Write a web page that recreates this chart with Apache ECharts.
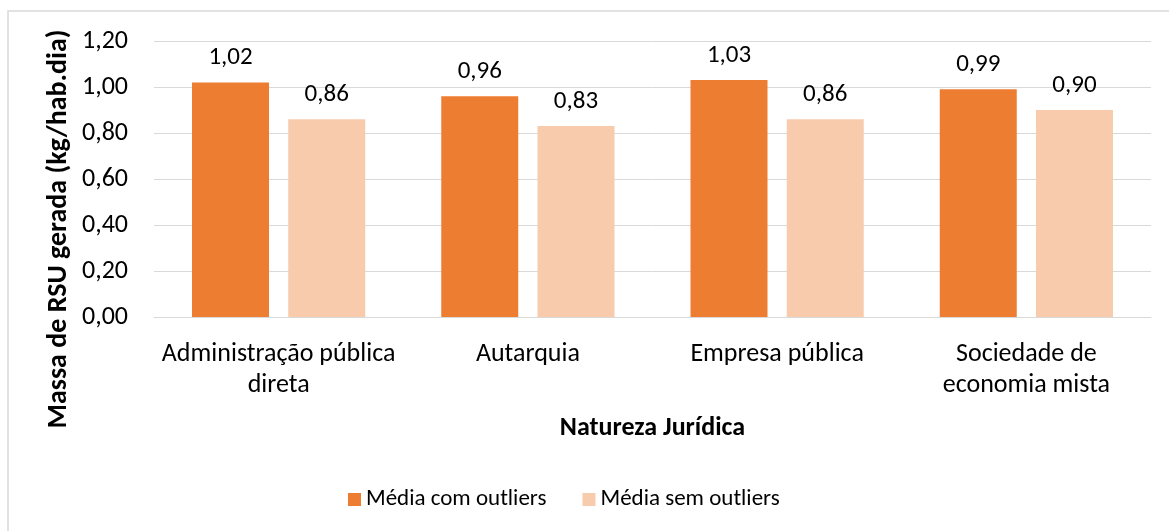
<!DOCTYPE html>
<html>
<head>
<meta charset="utf-8">
<script src="https://cdn.jsdelivr.net/npm/echarts@6/dist/echarts.min.js"></script>
<style>
  html, body { margin: 0; padding: 0; background: #fff; }
  #chart { width: 1169px; height: 531px; }
</style>
</head>
<body>
<div id="chart"></div>
<script>
// Average municipal solid waste generation by legal nature of the service provider
const categories = ['Administração pública\ndireta', 'Autarquia', 'Empresa pública', 'Sociedade de\neconomia mista'];
const comOutliers = [1.02, 0.96, 1.03, 0.99];
const semOutliers = [0.86, 0.83, 0.86, 0.90];
const seriesNames = ['Média com outliers', 'Média sem outliers'];
const yTitle = 'Massa de RSU gerada (kg/hab.dia)';
const xTitle = 'Natureza Jurídica';

const FONT = 'Carlito, Calibri, Lato, sans-serif';
const fmt = v => v.toFixed(2).replace('.', ',');

const chart = echarts.init(document.getElementById('chart'));
chart.setOption({
  animation: false,
  textStyle: { fontFamily: FONT, color: '#000' },
  graphic: [
    {
      type: 'rect',
      shape: { x: 8, y: 11, width: 1200, height: 560 },
      style: { fill: 'none', stroke: '#d9d9d9', lineWidth: 1.5 },
      silent: true
    },
    {
      // vertical value-axis title
      type: 'text',
      x: 59,
      y: 229,
      rotation: Math.PI / 2,
      style: {
        text: yTitle,
        fontFamily: FONT,
        fontSize: 28,
        fontWeight: 'bold',
        fill: '#000',
        align: 'center',
        verticalAlign: 'middle'
      },
      silent: true
    }
  ],
  grid: { left: 154, right: 18, top: 41, bottom: 214, containLabel: false, outerBoundsMode: 'none' },
  legend: {
    bottom: 15,
    left: 343,
    itemWidth: 13,
    itemHeight: 13,
    itemGap: 36,
    icon: 'rect',
    textStyle: { fontFamily: FONT, fontSize: 23, color: '#000' },
    data: seriesNames
  },
  xAxis: {
    type: 'category',
    data: categories,
    name: xTitle,
    nameLocation: 'middle',
    nameGap: 98,
    nameTextStyle: { fontFamily: FONT, fontSize: 26, fontWeight: 'bold', color: '#000' },
    axisLine: { lineStyle: { color: '#d9d9d9', width: 1 } },
    axisTick: { show: false },
    axisLabel: { fontFamily: FONT, fontSize: 26, color: '#000', margin: 22, lineHeight: 31, interval: 0 }
  },
  yAxis: {
    type: 'value',
    min: 0,
    max: 1.2,
    interval: 0.2,
    axisLine: { show: false },
    axisTick: { show: false },
    splitLine: { lineStyle: { color: '#d9d9d9', width: 1 } },
    axisLabel: { fontFamily: FONT, fontSize: 26, color: '#000', margin: 26, formatter: v => fmt(v) }
  },
  series: [
    {
      name: seriesNames[0],
      type: 'bar',
      data: comOutliers,
      itemStyle: { color: '#ED7D31' },
      barGap: '25%',
      barCategoryGap: '30.5%',
      label: { show: true, position: 'top', distance: 12, fontFamily: FONT, fontSize: 25, color: '#000', formatter: p => fmt(p.value) }
    },
    {
      name: seriesNames[1],
      type: 'bar',
      data: semOutliers,
      itemStyle: { color: '#F8CBAD' },
      barGap: '25%',
      barCategoryGap: '30.5%',
      label: { show: true, position: 'top', distance: 12, fontFamily: FONT, fontSize: 25, color: '#000', formatter: p => fmt(p.value) }
    }
  ]
});
</script>
</body>
</html>
